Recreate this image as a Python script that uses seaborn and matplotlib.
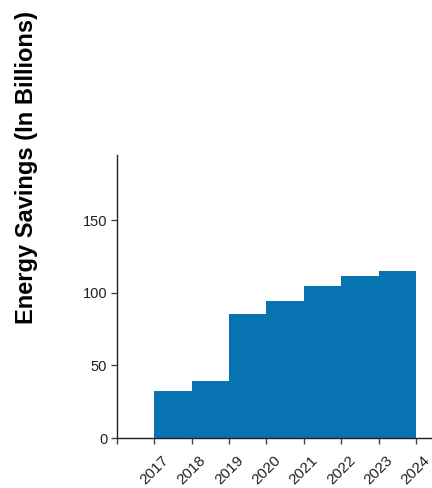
import matplotlib
matplotlib.use("Agg")
import matplotlib.pyplot as plt
import seaborn as sns
import pandas as pd

years = [2017, 2018, 2019, 2020, 2021, 2022, 2023]
savings = [32.3, 39.2, 85.2, 94.7, 104.5, 111.3, 115.2]
tick_years = [2016, 2017, 2018, 2019, 2020, 2021, 2022, 2023, 2024]
tick_labels = ["", "2017", "2018", "2019", "2020", "2021", "2022", "2023", "2024"]
y_ticks = [0, 50, 100, 150]

sns.set_theme(style="ticks")
plt.rcParams["font.family"] = ["Liberation Sans", "DejaVu Sans"]

df = pd.DataFrame({"year": years, "savings": savings})

fig = plt.figure(figsize=(4.32, 4.88), dpi=100)
ax = fig.add_axes([117 / 432, 1 - 438 / 488, 1 - 117 / 432, (438 - 155) / 488])

sns.histplot(data=df, x="year", weights="savings", bins=list(range(2017, 2025)),
             color="#0773B0", alpha=1.0, linewidth=0, ax=ax)

ax.set_xlim(2016, 2024.43)
ax.set_ylim(0, 195)
ax.set_xticks(tick_years)
ax.set_xticklabels(tick_labels, rotation=45, ha="center", fontsize=11, color="#222222")
ax.set_yticks(y_ticks)
ax.set_yticklabels([str(v) for v in y_ticks], fontsize=10.5, color="#222222")
ax.set_xlabel("")
ax.set_ylabel("")
ax.tick_params(axis="y", length=4, width=1, color="#444444", pad=3)
ax.tick_params(axis="x", length=4, width=1, color="#444444", pad=7)
for side in ["top", "right"]:
    ax.spines[side].set_visible(False)
for side in ["left", "bottom"]:
    ax.spines[side].set_color("#222222")
    ax.spines[side].set_linewidth(1)

fig.text(27 / 432, 1 - 167 / 488, "Energy Savings (In Billions)", rotation=90,
         ha="center", va="center", fontsize=17, fontweight="bold", color="black")

fig.savefig("out.png", dpi=100)
